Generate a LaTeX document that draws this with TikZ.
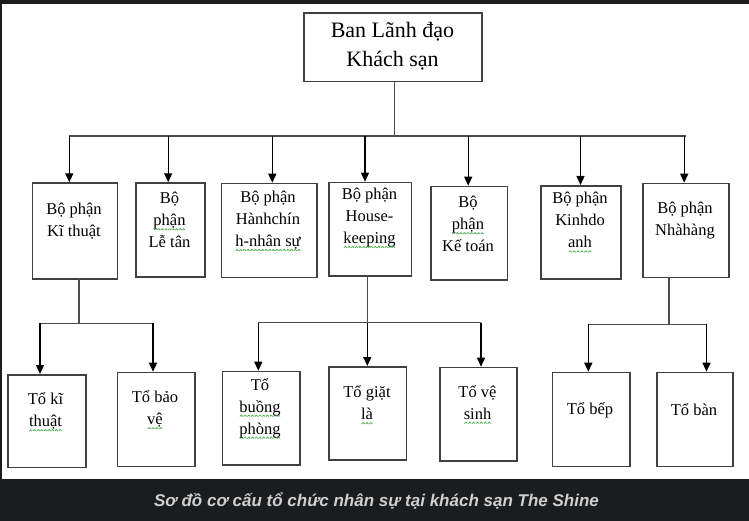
\documentclass[tikz,border=0pt]{standalone}
\usepackage{fontspec}
\setmainfont{Liberation Serif}
\newfontfamily\capfont{Liberation Sans}
\usetikzlibrary{arrows.meta}
\definecolor{barcol}{HTML}{1B1C1E}
\definecolor{capcol}{HTML}{CFCFCF}
\definecolor{wavegreen}{HTML}{4CB04C}
\newsavebox\wavebox
\newsavebox\gwword
\newcommand\gw[1]{\sbox\gwword{#1}\leavevmode\rlap{\lower4.8pt\hbox to\wd\gwword{\xleaders\copy\wavebox\hfil}}\usebox\gwword}
\tikzset{
  box/.style={draw=black!75, line width=1.6pt, fill=white, rectangle, inner sep=0pt, anchor=north west},
  txt/.style={align=center, inner sep=0pt, font=\fontsize{16.5}{22}\selectfont},
  toptxt/.style={align=center, inner sep=0pt, font=\fontsize{22}{28.5}\selectfont},
  conn/.style={draw=black!70, line width=1.3pt},
  arr/.style={draw=black, line width=1.3pt, -{Triangle[width=8pt,length=9pt]}},
}
\begin{document}
\sbox\wavebox{\begin{pgfpicture}\pgfsetlinewidth{0.75pt}\pgfsetstrokecolor{wavegreen}\pgfsetroundjoin\pgfpathmoveto{\pgfpoint{0pt}{0pt}}\pgfpathlineto{\pgfpoint{1.4pt}{1.5pt}}\pgfpathlineto{\pgfpoint{2.8pt}{0pt}}\pgfusepath{stroke}\end{pgfpicture}}%
\begin{tikzpicture}[x=1pt,y=-1pt]
\useasboundingbox (0,0) rectangle (749,521);
\fill[white] (0,0) rectangle (749,521);
\fill[barcol] (0,0) rectangle (749,4);
\fill[barcol] (0,0) rectangle (2,479);
\fill[barcol] (0,479) rectangle (749,521);
\node[text=capcol, font=\capfont\bfseries\itshape\fontsize{17}{20}\selectfont, inner sep=0pt] (cap) at (376.5,501) {Sơ đồ cơ cấu tổ chức nhân sự tại khách sạn The Shine};

% top box
\node[box, minimum width=178pt, minimum height=68.4pt] (top) at (303.4,12.3) {};
\node[toptxt] (toptext) at (392.5,46) {Ban Lãnh đạo\\Khách sạn};

% department boxes
\node[box, minimum width=85pt, minimum height=96pt] (k1) at (31.7,182.3) {};
\node[box, minimum width=69pt, minimum height=93.7pt] (k2) at (135,182.3) {};
\node[box, minimum width=95.3pt, minimum height=94pt] (k3) at (220.7,182.7) {};
\node[box, minimum width=82.4pt, minimum height=93.3pt] (k4) at (328.3,181.7) {};
\node[box, minimum width=76.7pt, minimum height=93.6pt] (k5) at (430,185.7) {};
\node[box, minimum width=80pt, minimum height=93.3pt] (k6) at (540,185) {};
\node[box, minimum width=86pt, minimum height=94pt] (k7) at (642.3,182.7) {};

\node[txt] (k1t) at (74,221) {Bộ phận\\Kĩ thuật};
\node[txt] (k2t) at (169.5,220) {Bộ\\\gw{phận}\\Lễ tân};
\node[txt] (k3t) at (268,221) {Bộ phận\\Hànhchín\\\gw{h-nhân sự}};
\node[txt] (k4t) at (369.5,218) {Bộ phận\\House-\\\gw{keeping}};
\node[txt] (k5t) at (468,224) {Bộ\\\gw{phận}\\Kế toán};
\node[txt] (k6t) at (580,222.5) {Bộ phận\\Kinhdo\\\gw{anh}};
\node[txt] (k7t) at (685,221) {Bộ phận\\Nhàhàng};

% team boxes
\node[box, minimum width=77.7pt, minimum height=92.7pt] (t1) at (7.3,374) {};
\node[box, minimum width=77.3pt, minimum height=94pt] (t2) at (116.7,371.7) {};
\node[box, minimum width=77.3pt, minimum height=93.6pt] (t3) at (221.7,370.7) {};
\node[box, minimum width=77.4pt, minimum height=93.3pt] (t4) at (328.3,366) {};
\node[box, minimum width=77pt, minimum height=93.3pt] (t5) at (439,366.7) {};
\node[box, minimum width=77.3pt, minimum height=94pt] (t6) at (551.7,371.7) {};
\node[box, minimum width=76.3pt, minimum height=94pt] (t7) at (656,371.7) {};

\node[txt] (t1t) at (45.5,412) {Tổ kĩ\\\gw{thuật}};
\node[txt] (t2t) at (155,410) {Tổ bảo\\\gw{vệ}};
\node[txt] (t3t) at (260,408.5) {Tổ\\\gw{buồng}\\\gw{phòng}};
\node[txt] (t4t) at (367,405) {Tổ giặt\\\gw{là}};
\node[txt] (t5t) at (477.5,404.5) {Tổ vệ\\\gw{sinh}};
\node[txt] (t6t) at (590,410) {Tổ bếp};
\node[txt] (t7t) at (694,410) {Tổ bàn};

% main bus
\coordinate (tb) at (394.6,80.7);
\coordinate (bus) at (394.6,136);
\coordinate (busL) at (69.3,136);
\coordinate (busR) at (685.6,136);
\draw[conn] (tb) -- (bus);
\draw[conn] (busL) -- (busR);
\foreach \x/\n in {69.3/k1,168.2/k2,272.3/k3,365/k4,468.2/k5,580.5/k6,684.2/k7}{
  \coordinate (d\n) at (\x,136);
  \draw[arr] (d\n) -- (d\n |- \n.north);
}

% left group
\coordinate (g1s) at (79,278.3);
\coordinate (g1m) at (79,323.3);
\coordinate (g1a) at (40,323.3);
\coordinate (g1b) at (153,323.3);
\draw[conn] (g1s) -- (g1m);
\draw[conn] (g1a) -- (g1b);
\draw[arr] (g1a) -- (g1a |- t1.north);
\draw[arr] (g1b) -- (g1b |- t2.north);

% middle group
\coordinate (g2s) at (367.3,275);
\coordinate (g2m) at (367.3,322.7);
\coordinate (g2a) at (258.3,322.7);
\coordinate (g2c) at (481,322.7);
\draw[conn] (g2s) -- (g2m);
\draw[conn] (g2a) -- (g2c);
\draw[arr] (g2a) -- (g2a |- t3.north);
\draw[arr] (g2m) -- (g2m |- t4.north);
\draw[arr] (g2c) -- (g2c |- t5.north);

% right group
\coordinate (g3s) at (669,276.7);
\coordinate (g3m) at (669,324.3);
\coordinate (g3a) at (588.3,324.3);
\coordinate (g3b) at (706.5,324.3);
\draw[conn] (g3s) -- (g3m);
\draw[conn] (g3a) -- (g3b);
\draw[arr] (g3a) -- (g3a |- t6.north);
\draw[arr] (g3b) -- (g3b |- t7.north);
\end{tikzpicture}
\end{document}
